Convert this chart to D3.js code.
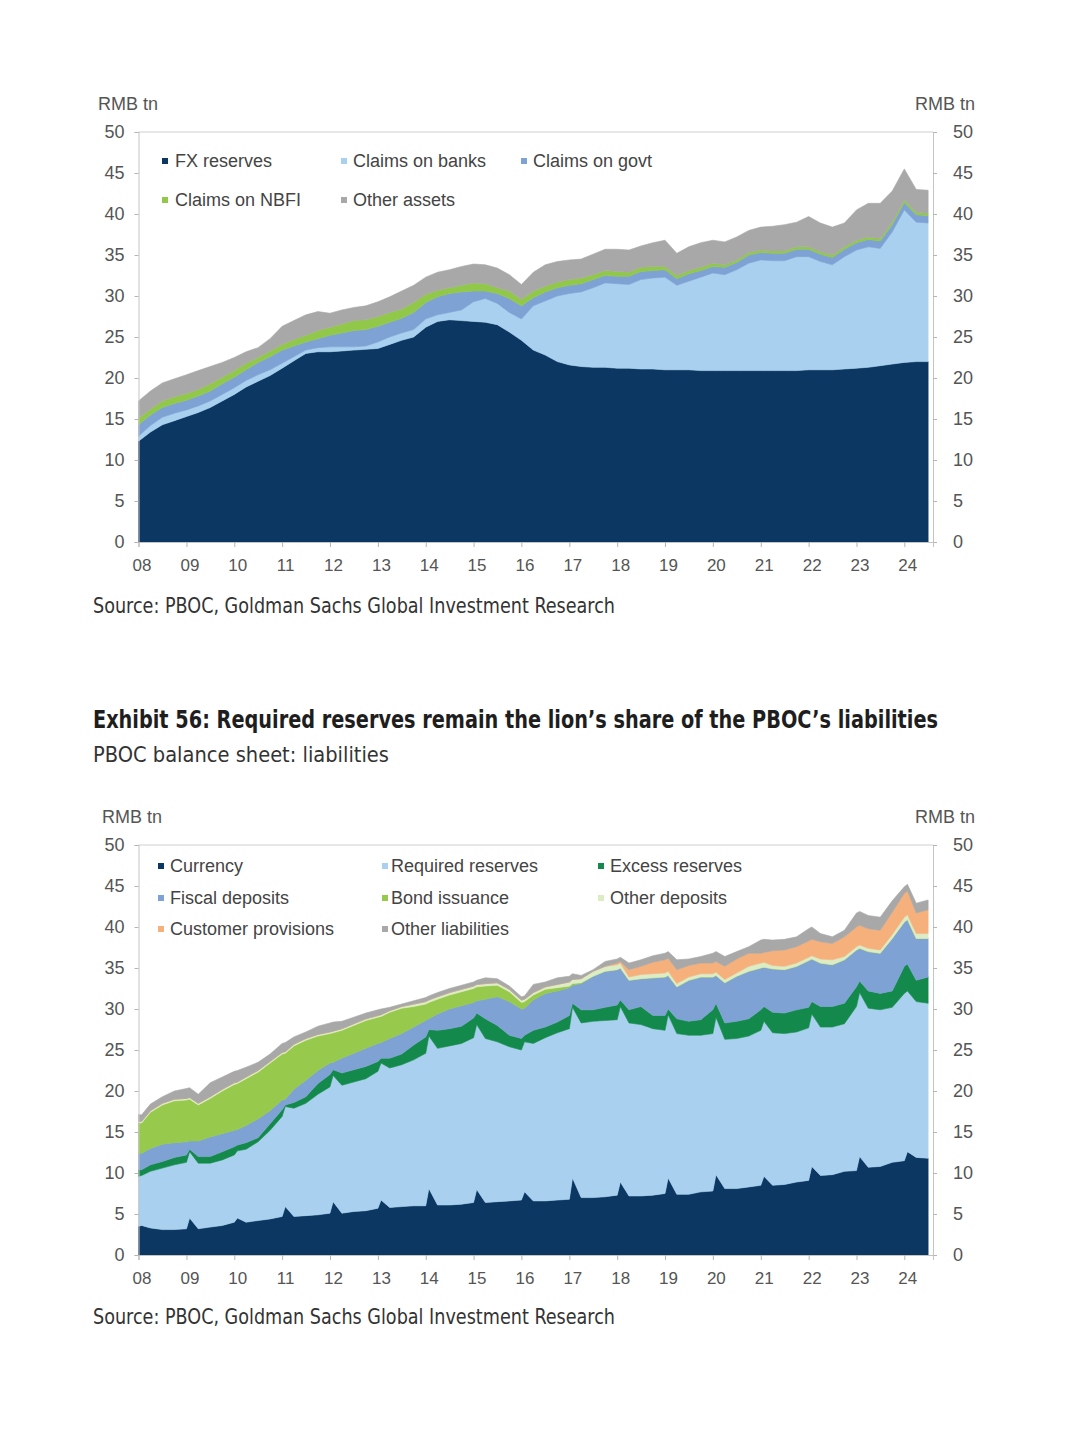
<!DOCTYPE html>
<html>
<head>
<meta charset="utf-8">
<script src="https://cdn.jsdelivr.net/npm/d3@7"></script>
<style>
  body { margin: 0; background: #fff; }
  svg { display: block; }
</style>
</head>
<body>
<svg id="page" width="1080" height="1440"></svg>
<script>
// ---- assets (top chart), quarterly, RMB tn
var assetDates = [
  "2008-01","2008-04","2008-07","2008-10", "2009-01","2009-04","2009-07","2009-10",
  "2010-01","2010-04","2010-07","2010-10", "2011-01","2011-04","2011-07","2011-10",
  "2012-01","2012-04","2012-07","2012-10", "2013-01","2013-04","2013-07","2013-10",
  "2014-01","2014-04","2014-07","2014-10", "2015-01","2015-04","2015-07","2015-10",
  "2016-01","2016-04","2016-07","2016-10", "2017-01","2017-04","2017-07","2017-10",
  "2018-01","2018-04","2018-07","2018-10", "2019-01","2019-04","2019-07","2019-10",
  "2020-01","2020-04","2020-07","2020-10", "2021-01","2021-04","2021-07","2021-10",
  "2022-01","2022-04","2022-07","2022-10", "2023-01","2023-04","2023-07","2023-10",
  "2024-01","2024-04","2024-07"
];
var fxReserves = [
  12.3,13.4,14.3,14.8, 15.3,15.8,16.4,17.2, 18.0,18.9,19.6,20.3, 21.2,22.1,23.0,23.2,
  23.2,23.3,23.4,23.5, 23.6,24.1,24.6,25.0, 26.2,26.9,27.1,27.0, 26.9,26.8,26.5,25.6,
  24.6,23.4,22.8,22.0, 21.6,21.4,21.3,21.3, 21.2,21.2,21.1,21.1, 21.0,21.0,21.0,20.9,
  20.9,20.9,20.9,20.9, 20.9,20.9,20.9,20.9, 21.0,21.0,21.0,21.1, 21.2,21.3,21.5,21.7,
  21.9,22.0,22.0
];
var claimsOnBanks = [
  0.6,0.8,0.9,0.9, 0.8,0.8,0.8,0.8, 0.8,0.8,0.8,0.7, 0.6,0.5,0.4,0.5,
  0.6,0.5,0.4,0.4, 0.8,0.9,0.9,0.9, 1.0,0.8,0.9,1.3, 2.4,2.9,2.6,2.4,
  2.6,5.4,6.6,8.0, 8.7,9.1,9.7,10.3, 10.3,10.2,10.9,11.1, 11.3,10.3,10.8,11.4,
  11.9,11.7,12.3,13.1, 13.5,13.4,13.4,13.9, 13.8,13.2,12.8,13.7, 14.4,14.7,14.3,16.1,
  18.6,17.0,16.9
];
var claimsOnGovt = [
  1.4,1.3,1.2,1.2, 1.2,1.2,1.2,1.3, 1.3,1.3,1.5,1.6, 1.6,1.3,1.0,1.1,
  1.4,1.7,2.0,2.0, 1.9,1.8,1.8,2.1, 2.0,2.2,2.3,2.2, 1.3,0.9,1.2,1.7,
  1.6,1.0,1.1,1.0, 1.0,1.0,1.0,0.9, 0.9,1.0,1.0,0.9, 0.9,0.8,0.9,0.8,
  0.8,0.9,0.9,1.0, 0.9,0.9,0.9,0.9, 0.9,0.9,0.9,0.9, 0.9,0.9,0.9,0.9,
  0.9,0.9,0.9
];
var claimsOnNbfi = [
  0.8,0.7,0.8,0.8, 0.8,0.8,0.9,0.8, 0.8,0.8,0.6,0.7, 0.7,0.8,0.8,1.0,
  1.0,1.1,1.2,1.2, 1.2,1.2,1.1,1.2, 1.0,0.8,0.7,0.8, 1.0,0.9,0.7,0.9,
  0.8,0.8,0.7,0.7, 0.7,0.7,0.6,0.6, 0.6,0.5,0.5,0.5, 0.4,0.4,0.4,0.4,
  0.4,0.3,0.3,0.3, 0.3,0.3,0.3,0.3, 0.3,0.3,0.3,0.3, 0.3,0.3,0.3,0.3,
  0.3,0.3,0.3
];
var otherAssets = [
  2.1,2.2,2.2,2.2, 2.3,2.3,2.1,1.8, 1.6,1.4,1.2,1.5, 2.2,2.3,2.5,2.3,
  1.7,1.7,1.6,1.7, 1.8,1.9,2.2,2.1, 2.1,2.2,2.2,2.3, 2.3,2.3,2.4,2.0,
  1.8,2.3,2.6,2.5, 2.4,2.3,2.5,2.6, 2.7,2.7,2.6,2.9, 3.2,2.7,2.9,3.0,
  2.8,2.8,2.8,2.7, 2.8,3.0,3.2,3.0, 3.7,3.5,3.4,2.9, 3.7,4.1,4.3,3.8,
  3.8,2.8,2.8
];

// ---- liabilities (bottom chart): quarterly plus the late-January currency peak each year
var liabDates = [
  "2008-01-01","2008-01-25","2008-04-01","2008-07-01","2008-10-01",
  "2009-01-01","2009-01-25","2009-04-01","2009-07-01","2009-10-01",
  "2010-01-01","2010-01-25","2010-04-01","2010-07-01","2010-10-01",
  "2011-01-01","2011-01-25","2011-04-01","2011-07-01","2011-10-01",
  "2012-01-01","2012-01-25","2012-04-01","2012-07-01","2012-10-01",
  "2013-01-01","2013-01-25","2013-04-01","2013-07-01","2013-10-01",
  "2014-01-01","2014-01-25","2014-04-01","2014-07-01","2014-10-01",
  "2015-01-01","2015-01-25","2015-04-01","2015-07-01","2015-10-01",
  "2016-01-01","2016-01-25","2016-04-01","2016-07-01","2016-10-01",
  "2017-01-01","2017-01-25","2017-04-01","2017-07-01","2017-10-01",
  "2018-01-01","2018-01-25","2018-04-01","2018-07-01","2018-10-01",
  "2019-01-01","2019-01-25","2019-04-01","2019-07-01","2019-10-01",
  "2020-01-01","2020-01-25","2020-04-01","2020-07-01","2020-10-01",
  "2021-01-01","2021-01-25","2021-04-01","2021-07-01","2021-10-01",
  "2022-01-01","2022-01-25","2022-04-01","2022-07-01","2022-10-01",
  "2023-01-01","2023-01-25","2023-04-01","2023-07-01","2023-10-01",
  "2024-01-01","2024-01-25","2024-04-01","2024-07-01"
];
var currency = [
  3.5,3.6,3.3,3.1,3.1,  3.2,4.5,3.2,3.4,3.6,  4.0,4.5,4.0,4.2,4.4,  4.7,5.9,4.7,4.8,4.9,
  5.1,6.5,5.1,5.3,5.4,  5.7,6.7,5.8,5.9,6.0,  6.0,8.1,6.1,6.1,6.2,  6.4,8.0,6.4,6.5,6.6,
  6.7,7.7,6.6,6.6,6.7,  6.8,9.4,7.0,7.0,7.1,  7.3,8.9,7.2,7.2,7.3,  7.5,9.4,7.4,7.4,7.7,
  7.8,9.8,8.1,8.1,8.3,  8.5,9.6,8.5,8.6,8.9,  9.1,10.8,9.7,9.8,10.2, 10.3,12.0,10.7,10.8,11.3,
  11.5,12.6,11.9,11.8
];
var requiredReserves = [
  6.1,6.1,6.9,7.5,7.9,  8.1,8.1,8.0,7.8,8.0,  8.2,8.2,8.9,9.6,10.8,  12.2,12.2,13.2,13.7,14.7,
  15.4,15.4,15.6,15.8,16.1,  16.7,16.7,17.0,17.3,17.8,  18.6,18.6,19.1,19.4,19.6,  20.1,20.1,20.0,19.5,18.8,
  18.3,18.3,19.2,19.9,20.4,  20.8,20.8,21.3,21.5,21.5,  21.4,21.4,21.1,20.9,20.3,  19.9,19.9,19.6,19.4,19.1,
  19.2,19.2,18.2,18.3,18.4,  18.9,18.9,18.6,18.4,18.3,  18.6,18.6,18.1,18.0,18.0,  20.0,20.0,19.4,19.1,18.9,
  20.4,19.6,19.0,18.9
];
var excessReserves = [
  0.8,0.7,0.8,0.8,0.9,  0.9,0.3,0.8,0.8,1.0,  1.0,0.7,0.8,0.5,0.8,  0.8,0.2,0.7,0.8,1.3,
  1.5,0.7,1.5,1.5,1.5,  1.2,0.6,1.2,1.3,1.8,  2.0,0.8,2.2,2.1,2.1,  2.4,1.4,2.4,2.0,1.4,
  1.4,0.8,1.6,1.3,1.3,  1.6,0.5,1.6,1.4,1.6,  1.8,0.8,1.6,2.2,1.6,  1.8,0.7,1.8,1.7,1.9,
  2.9,1.7,2.0,2.1,2.1,  2.5,1.8,2.5,2.5,2.7,  2.5,1.5,2.5,2.5,2.5,  2.4,1.4,2.1,2.0,2.0,
  3.3,3.3,2.6,3.2
];
var fiscalDeposits = [
  2.0,2.0,2.0,2.1,1.8,  1.6,1.0,1.9,2.4,2.2,  2.0,1.9,2.1,2.3,1.6,  1.2,0.7,1.6,2.0,1.6,
  1.4,0.9,1.8,2.0,2.2,  2.2,1.9,2.4,2.5,2.2,  2.0,1.3,2.0,2.4,2.5,  1.9,1.5,2.4,3.5,4.1,
  3.6,3.3,3.7,4.1,3.8,  3.4,2.2,3.2,4.1,4.4,  4.3,3.9,3.6,3.4,4.6,  4.7,4.1,3.9,5.0,5.2,
  4.0,3.4,4.9,5.5,5.8,  5.1,4.8,5.3,5.3,5.3,  5.7,5.2,5.3,5.1,5.3,  4.5,4.0,4.8,4.9,6.4,
  5.4,5.4,5.1,4.7
];
var bondIssuance = [
  3.7,3.7,4.4,4.8,5.1,  5.1,5.1,4.4,4.7,5.2,  5.6,5.6,5.7,5.7,5.8,  5.6,5.6,5.3,4.9,4.2,
  3.6,3.6,3.4,3.4,3.4,  3.2,3.2,3.2,3.1,2.5,  2.0,2.0,1.8,1.7,1.7,  1.7,1.7,1.6,1.4,1.2,
  0.8,0.8,0.6,0.5,0.4,  0.2,0.2,0.1,0,0,  0,0,0,0,0,  0,0,0,0,0,
  0,0,0,0,0,  0,0,0,0,0,  0,0,0,0,0,  0,0,0,0,0,
  0,0,0,0
];
var otherDeposits = [
  0.2,0.2,0.2,0.2,0.2,  0.2,0.2,0.2,0.2,0.2,  0.2,0.2,0.2,0.2,0.2,  0.2,0.2,0.2,0.2,0.2,
  0.2,0.2,0.2,0.2,0.2,  0.2,0.2,0.2,0.2,0.3,  0.3,0.3,0.3,0.3,0.3,  0.3,0.3,0.3,0.3,0.3,
  0.3,0.3,0.3,0.3,0.4,  0.5,0.5,0.5,0.6,0.6,  0.6,0.6,0.4,0.5,0.5,  0.5,0.5,0.4,0.4,0.4,
  0.4,0.4,0.4,0.4,0.6,  0.6,0.6,0.4,0.4,0.4,  0.4,0.4,0.5,0.6,0.4,  0.4,0.4,0.4,0.4,0.5,
  0.6,0.6,0.6,0.6
];
var customerProvisions = [
  0,0,0,0,0,  0,0,0,0,0,  0,0,0,0,0,  0,0,0,0,0,
  0,0,0,0,0,  0,0,0,0,0,  0,0,0,0,0,  0,0,0,0,0,
  0,0,0,0,0,  0,0,0,0,0,  0.2,0.2,0.9,1.0,1.4,  1.6,1.6,1.7,1.4,1.3,
  1.3,1.3,1.6,1.7,1.6,  1.2,1.2,1.8,2.0,2.0,  2.0,2.0,2.1,2.0,2.4,  2.4,2.4,2.4,2.4,2.7,
  2.9,2.9,2.5,2.9
];
var otherLiabilities = [
  0.8,0.8,0.8,0.8,1.0,  1.2,1.2,1.1,1.7,1.5,  1.4,1.4,1.2,1.0,0.9,  1.1,1.1,0.9,0.8,1.0,
  1.1,1.1,0.9,0.8,0.7,  0.7,0.7,0.4,0.3,0.4,  0.5,0.5,0.5,0.5,0.5,  0.5,0.5,0.7,0.5,0.4,
  0.4,0.4,1.0,0.6,0.8,  0.7,0.7,0.4,0.2,0.6,  0.5,0.5,0.8,0.8,0.8,  0.8,0.8,1.2,0.8,0.8,
  1.2,1.2,1.2,0.9,0.8,  1.6,1.6,1.3,1.3,1.2,  1.5,1.5,1.0,0.8,0.8,  1.7,1.7,1.6,1.6,1.4,
  0.8,0.8,1.2,1.2
];

var yTicks = [0, 5, 10, 15, 20, 25, 30, 35, 40, 45, 50];
var unitLabel = "RMB tn";
var sourceText = "Source: PBOC, Goldman Sachs Global Investment Research";

var svg = d3.select("#page");
var parseMonth = d3.timeParse("%Y-%m"),
    parseDay = d3.timeParse("%Y-%m-%d");
function parseDate(s) { return parseDay(s) || parseMonth(s); }

var axisFont = "'Liberation Sans', Arial, sans-serif";
var narrowFont = "'Liberation Sans Narrow', 'DejaVu Sans Condensed', 'Arial Narrow', sans-serif";

// plot box shared by both charts
var left = 138.5, right = 933, plotHeight = 410;

function drawPanel(p) {
  var x = d3.scaleTime()
      .domain([new Date(2008, 0, 1), new Date(2024, 7, 7)])
      .range([left, right]);
  var y = d3.scaleLinear()
      .domain([0, 50])
      .range([p.bottom, p.bottom - plotHeight]);

  // one row per date, one column per series
  var rows = p.dates.map(function(d, i) {
    var row = {date: parseDate(d)};
    p.series.forEach(function(s) { row[s.name] = s.values[i]; });
    return row;
  });
  var layers = d3.stack().keys(p.series.map(function(s) { return s.name; }))(rows);

  var area = d3.area()
      .x(function(d) { return x(d.data.date); })
      .y0(function(d) { return y(d[0]); })
      .y1(function(d) { return y(d[1]); });

  var g = svg.append("g");

  g.selectAll("path.layer")
    .data(layers)
    .enter().append("path")
      .attr("class", "layer")
      .attr("d", area)
      .attr("fill", function(d, i) { return p.series[i].color; })
      .attr("stroke", function(d, i) { return p.series[i].color; })
      .attr("stroke-width", 0.6);

  // frame line along the top
  g.append("line")
      .attr("x1", left).attr("x2", right)
      .attr("y1", y(50)).attr("y2", y(50))
      .attr("stroke", "#cfcfcf");

  // left, right and bottom axes
  var yl = g.append("g")
      .attr("transform", "translate(" + left + ",0)")
      .call(d3.axisLeft(y).tickValues(yTicks).tickSize(4).tickPadding(10).tickFormat(d3.format("d")));
  var yr = g.append("g")
      .attr("transform", "translate(" + right + ",0)")
      .call(d3.axisRight(y).tickValues(yTicks).tickSize(4).tickPadding(16).tickFormat(d3.format("d")));
  var xa = g.append("g")
      .attr("transform", "translate(0," + p.bottom + ")")
      .call(d3.axisBottom(x).ticks(d3.timeYear.every(1)).tickSize(5).tickPadding(12).tickFormat(d3.timeFormat("%y")));

  [yl, yr, xa].forEach(function(a) {
    a.select(".domain").attr("stroke", "#c4c4c4");
    a.selectAll(".tick line").attr("stroke", "#b5b5b5");
    a.selectAll(".tick text")
      .attr("fill", "#555")
      .attr("font-family", axisFont)
      .attr("font-size", 18);
  });
  xa.selectAll(".tick text").attr("dx", 3).attr("font-size", 17);

  // unit labels
  g.append("text")
      .attr("x", p.unitLeftX).attr("y", p.bottom - plotHeight - 22)
      .attr("font-family", axisFont).attr("font-size", 18).attr("fill", "#555")
      .text(unitLabel);
  g.append("text")
      .attr("x", 975).attr("y", p.bottom - plotHeight - 22)
      .attr("text-anchor", "end")
      .attr("font-family", axisFont).attr("font-size", 18).attr("fill", "#555")
      .text(unitLabel);

  // legend
  var legend = g.selectAll("g.legend")
    .data(p.series)
    .enter().append("g")
      .attr("class", "legend");

  legend.append("rect")
      .attr("x", function(d, i) { return p.legendCols.marker[p.legendAt[i][0]]; })
      .attr("y", function(d, i) { return p.legendRows[p.legendAt[i][1]] - 3; })
      .attr("width", 6)
      .attr("height", 6)
      .attr("fill", function(d) { return d.color; });

  legend.append("text")
      .attr("x", function(d, i) { return p.legendCols.text[p.legendAt[i][0]]; })
      .attr("y", function(d, i) { return p.legendRows[p.legendAt[i][1]] + 6; })
      .attr("font-family", axisFont)
      .attr("font-size", 18)
      .attr("fill", "#444")
      .text(function(d) { return d.label; });

  // source line under the chart
  svg.append("text")
      .attr("x", 93).attr("y", p.sourceY)
      .attr("font-family", narrowFont).attr("font-size", 21).attr("fill", "#333")
      .attr("textLength", 522).attr("lengthAdjust", "spacingAndGlyphs")
      .text(sourceText);
}

var navy = "#0c3762", lightBlue = "#a9d1ef", midBlue = "#7ea2d3", grey = "#a8a8a8";

drawPanel({
  bottom: 542,
  dates: assetDates,
  unitLeftX: 98,
  sourceY: 613,
  series: [
    {name: "fx", label: "FX reserves", color: navy, values: fxReserves},
    {name: "banks", label: "Claims on banks", color: lightBlue, values: claimsOnBanks},
    {name: "govt", label: "Claims on govt", color: midBlue, values: claimsOnGovt},
    {name: "nbfi", label: "Claims on NBFI", color: "#92c84a", values: claimsOnNbfi},
    {name: "other", label: "Other assets", color: grey, values: otherAssets}
  ],
  legendCols: {marker: [162, 341, 521], text: [175, 353, 533]},
  legendRows: [161, 200],
  legendAt: [[0, 0], [1, 0], [2, 0], [0, 1], [1, 1]]
});

drawPanel({
  bottom: 1255,
  dates: liabDates,
  unitLeftX: 102,
  sourceY: 1324,
  series: [
    {name: "cur", label: "Currency", color: navy, values: currency},
    {name: "rr", label: "Required reserves", color: lightBlue, values: requiredReserves},
    {name: "er", label: "Excess reserves", color: "#138a4b", values: excessReserves},
    {name: "fis", label: "Fiscal deposits", color: midBlue, values: fiscalDeposits},
    {name: "bond", label: "Bond issuance", color: "#96c94c", values: bondIssuance},
    {name: "od", label: "Other deposits", color: "#dcecc4", values: otherDeposits},
    {name: "cp", label: "Customer provisions", color: "#f6b07c", values: customerProvisions},
    {name: "ol", label: "Other liabilities", color: grey, values: otherLiabilities}
  ],
  legendCols: {marker: [158, 382, 598], text: [170, 391, 610]},
  legendRows: [866, 898, 929],
  legendAt: [[0, 0], [1, 0], [2, 0], [0, 1], [1, 1], [2, 1], [0, 2], [1, 2]]
});

// heading of the second exhibit
svg.append("text")
    .attr("x", 93).attr("y", 728)
    .attr("font-family", narrowFont).attr("font-size", 25).attr("font-weight", "bold").attr("fill", "#1e1e1e")
    .attr("textLength", 845).attr("lengthAdjust", "spacingAndGlyphs")
    .text("Exhibit 56: Required reserves remain the lion\u2019s share of the PBOC\u2019s liabilities");
svg.append("text")
    .attr("x", 93).attr("y", 762)
    .attr("font-family", narrowFont).attr("font-size", 22).attr("fill", "#333")
    .attr("textLength", 296).attr("lengthAdjust", "spacingAndGlyphs")
    .text("PBOC balance sheet: liabilities");
</script>
</body>
</html>
